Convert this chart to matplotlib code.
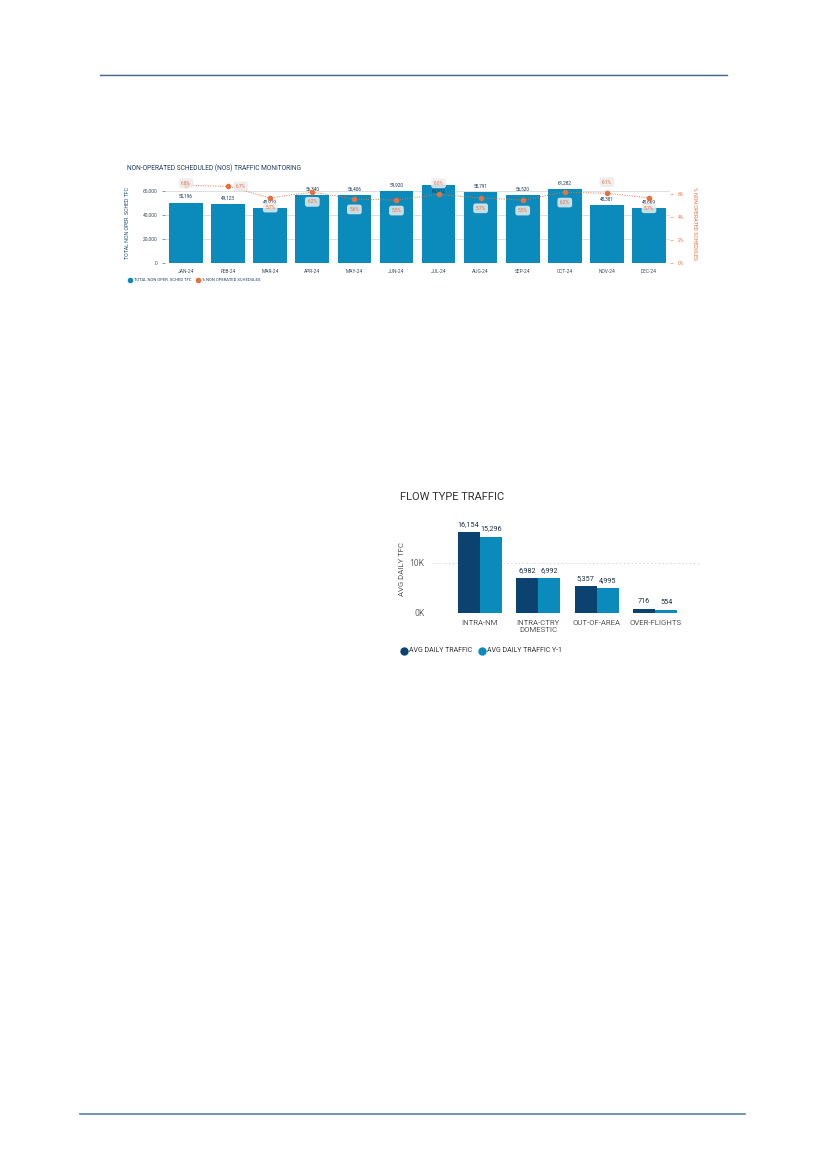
import numpy as np
import matplotlib
matplotlib.use("Agg")
import matplotlib.pyplot as plt
from matplotlib.lines import Line2D

plt.rcParams['font.family'] = ['Roboto', 'DejaVu Sans']

# ---- data: NOS traffic monitoring
months = ['JAN-24', 'FEB-24', 'MAR-24', 'APR-24', 'MAY-24', 'JUN-24',
          'JUL-24', 'AUG-24', 'SEP-24', 'OCT-24', 'NOV-24', 'DEC-24']
nos_tfc = [50196, 49123, 45919, 56340, 56406, 59920,
           64912, 58791, 56520, 61282, 48381, 45669]
nos_pct = [6.8, 6.7, 5.7, 6.2, 5.6, 5.5, 6.0, 5.7, 5.5, 6.2, 6.1, 5.7]

# ---- data: flow type traffic
flow_types = ['INTRA-NM', 'INTRA-CTRY\nDOMESTIC', 'OUT-OF-AREA', 'OVER-FLIGHTS']
avg_daily = [16154, 6982, 5357, 716]
avg_daily_y1 = [15296, 6992, 4995, 554]

BLUE = '#0a8bbb'
NAVY = '#0b4270'
ORANGE = '#e8703f'
TITLE = '#1d3a5c'

W, H = 827, 1169
fig = plt.figure(figsize=(W / 100, H / 100), dpi=100)


def fx(px):
    return px / W


def fy(py):
    return 1 - py / H


# header / footer rules
fig.add_artist(Line2D([fx(100), fx(727)], [fy(75), fy(75)], color='#4f6a88', lw=1.0))
fig.add_artist(Line2D([fx(100), fx(727)], [fy(74), fy(74)], color='#c5d2e0', lw=0.6))
fig.add_artist(Line2D([fx(80), fx(745)], [fy(1114), fy(1114)], color='#5b80a8', lw=1.2))

# ================= top chart =================
ax = fig.add_axes([fx(165), fy(263), fx(670) - fx(165), (263 - 183) / H])
x = np.arange(len(months))
ax.bar(x, nos_tfc, width=0.8, color=BLUE, zorder=2)
ax.set_xlim(-0.5, len(months) - 0.5)
ax.set_ylim(0, 66700)
ax.set_yticks([0, 20000, 40000, 60000])
ax.set_yticklabels(['0', '20,000', '40,000', '60,000'])
ax.set_xticks(x)
ax.set_xticklabels(months)
ax.tick_params(axis='y', labelsize=3.5, colors='#3a4a5c', length=2.5, width=0.4, pad=3)
ax.tick_params(axis='x', labelsize=3.5, colors='#3a4a5c', length=0, pad=4)
for s in ax.spines.values():
    s.set_visible(False)
ax.grid(axis='y', color='#d9d9d9', lw=0.6, zorder=0)
ax.set_ylabel('TOTAL NON OPER. SCHED TFC', fontsize=3.8, color='#1f4e79', labelpad=9)

for xi, v in zip(x, nos_tfc):
    if v > 63000:
        ax.annotate(f'{v:,}', (xi, v), xytext=(0, -4), textcoords='offset points',
                    ha='center', va='center', fontsize=3.4, color='#1d3a5c', zorder=5)
    else:
        ax.annotate(f'{v:,}', (xi, v), xytext=(0, 4.5), textcoords='offset points',
                    ha='center', va='center', fontsize=3.4, color='#1d3a5c', zorder=5)

ax2 = ax.twinx()
ax2.set_ylim(0, 7.0)
ax2.plot(x, nos_pct, color=ORANGE, lw=0.7, ls=(0, (1, 1.5)), marker='o', ms=3, zorder=4)
ax2.set_yticks([0, 2, 4, 6])
ax2.set_yticklabels(['0%', '2%', '4%', '6%'])
ax2.tick_params(axis='y', labelsize=3.5, colors=ORANGE, length=2.5, width=0.4, pad=3)
for t in ax2.get_yticklines():
    t.set_color('#cccccc')
for s in ax2.spines.values():
    s.set_visible(False)
ax2.set_ylabel('% NON OPERATED SCHEDULES', fontsize=3.8, color=ORANGE, rotation=-90, labelpad=9)

# label placement for percentage boxes (offset in points)
pct_offsets = [(0, 1.5), (9, 0), (0, -7), (0, -7), (0, -7.5), (0, -7.5),
               (0, 8), (0, -7.5), (0, -7.5), (0, -7.5), (0, 8), (0, -7.5)]
for xi, p, off in zip(x, nos_pct, pct_offsets):
    ax2.annotate(f'{p:.1f}%', (xi, p), xytext=off, textcoords='offset points',
                 ha='center', va='center', fontsize=3.4, color=ORANGE, zorder=6,
                 bbox=dict(boxstyle='round,pad=0.5', fc='#ececec', ec='none', alpha=0.85))

fig.text(fx(127), fy(168), 'NON-OPERATED SCHEDULED (NOS) TRAFFIC MONITORING',
         fontsize=4.8, color=TITLE, ha='left', va='center')

# legend
fig.add_artist(Line2D([fx(130)], [fy(280)], marker='o', ms=3, color=BLUE, ls='none'))
fig.text(fx(134), fy(280), 'TOTAL NON OPER. SCHED TFC', fontsize=3.0, color='#1d3a5c',
         ha='left', va='center')
fig.add_artist(Line2D([fx(198)], [fy(280)], marker='o', ms=3, color=ORANGE, ls='none'))
fig.text(fx(202), fy(280), '% NON OPERATED SCHEDULES', fontsize=3.0, color='#1d3a5c',
         ha='left', va='center')

# ================= bottom chart =================
bx = fig.add_axes([fx(433), fy(613), fx(702) - fx(433), (613 - 525) / H])
xf = np.arange(len(flow_types))
bw = 0.38
bx.bar(xf - bw / 2, avg_daily, width=bw, color=NAVY, zorder=2)
bx.bar(xf + bw / 2, avg_daily_y1, width=bw, color=BLUE, zorder=2)
bx.set_xlim(-0.8, 3.8)
bx.set_ylim(0, 17600)
bx.set_yticks([0, 10000])
bx.set_yticklabels(['0K', '10K'])
bx.set_xticks(xf)
bx.set_xticklabels(flow_types)
bx.tick_params(axis='y', labelsize=6.2, colors='#666666', length=0, pad=6)
bx.tick_params(axis='x', labelsize=5.6, colors='#555555', length=0, pad=5)
for s in bx.spines.values():
    s.set_visible(False)
bx.grid(axis='y', color='#c8c8c8', lw=0.7, ls=(0, (1, 3)), zorder=0)
bx.set_ylabel('AVG DAILY TFC', fontsize=5.6, color='#555555', labelpad=3)
for xi, v in zip(xf, avg_daily):
    bx.annotate(f'{v:,}', (xi - bw / 2, v), xytext=(0, 5.5), textcoords='offset points',
                ha='center', va='center', fontsize=5.2, color='#1d2f45')
for xi, v in zip(xf, avg_daily_y1):
    bx.annotate(f'{v:,}', (xi + bw / 2, v), xytext=(0, 5.5), textcoords='offset points',
                ha='center', va='center', fontsize=5.2, color='#1d2f45')

fig.text(fx(400), fy(497), 'FLOW TYPE TRAFFIC', fontsize=8.0, color='#333333',
         ha='left', va='center')

fig.add_artist(Line2D([fx(404)], [fy(651)], marker='o', ms=5, color=NAVY, ls='none'))
fig.text(fx(409), fy(651), 'AVG DAILY TRAFFIC', fontsize=5.0, color='#333333',
         ha='left', va='center')
fig.add_artist(Line2D([fx(482)], [fy(651)], marker='o', ms=5, color=BLUE, ls='none'))
fig.text(fx(487), fy(651), 'AVG DAILY TRAFFIC Y-1', fontsize=5.0, color='#333333',
         ha='left', va='center')

fig.savefig('out.png', dpi=100)
